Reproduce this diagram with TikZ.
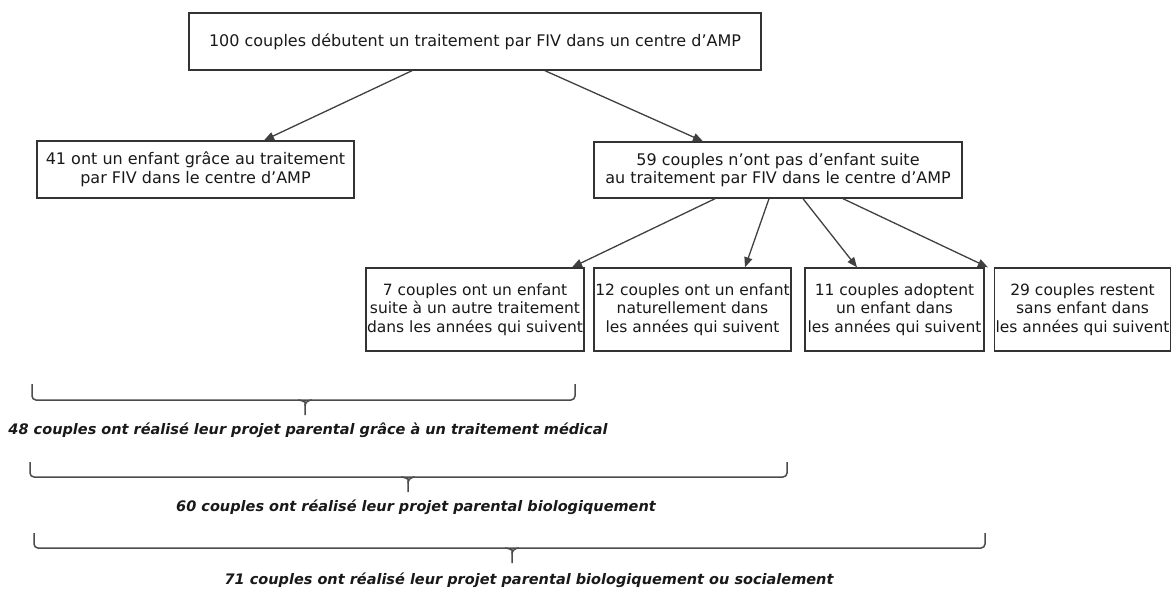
\documentclass[tikz,border=0pt]{standalone}
\usepackage{fontspec}
\setmainfont{DejaVu Sans}
\usetikzlibrary{arrows.meta}

\begin{document}
\begin{tikzpicture}[x=1pt,y=-1pt,>={Triangle[length=10pt,width=8pt]},
				boite/.style={rectangle,draw=black!80,line width=1.4pt,inner sep=1pt,align=center,text=black!90,font=\fontsize{16}{18.5}\selectfont},
				petite/.style={boite,font=\fontsize{15.5}{18.5}\selectfont},
				fleche/.style={->,draw=black!75,line width=1.3pt},
				accolade/.style={draw=black!70,line width=1.5pt,rounded corners=4pt},
				bilan/.style={text=black!90,inner sep=0pt,font=\fontsize{14.5}{17}\selectfont\bfseries\itshape}]

				\useasboundingbox (0,0) rectangle (1172,590);

				\node (debut) [boite,minimum width=572pt,minimum height=57pt] at (475,41.5) {100 couples débutent un traitement par FIV dans un centre d'AMP};
				\node (enfant41) [boite,minimum width=317pt,minimum height=57pt] at (195.5,169.5) {41 ont un enfant grâce au traitement\\par FIV dans le centre d'AMP};
				\node (sans59) [boite,minimum width=368pt,minimum height=56pt] at (778,170) {59 couples n'ont pas d'enfant suite\\au traitement par FIV dans le centre d'AMP};
				\node (autre7) [petite,minimum width=218pt,minimum height=83pt] at (475,309.5) {7 couples ont un enfant\\suite à un autre traitement\\dans les années qui suivent};
				\node (nat12) [petite,minimum width=197pt,minimum height=83pt] at (692.5,309.5) {12 couples ont un enfant\\naturellement dans\\les années qui suivent};
				\node (adopt11) [petite,minimum width=179pt,minimum height=83pt] at (894.5,309.5) {11 couples adoptent\\un enfant dans\\les années qui suivent};
				\node (sans29) [petite,minimum width=175pt,minimum height=83pt] at (1082.5,309.5) {29 couples restent\\sans enfant dans\\les années qui suivent};

				\draw [fleche] ([xshift=-63pt]debut.south)--([xshift=68.5pt]enfant41.north);
				\draw [fleche] ([xshift=70pt]debut.south)--([xshift=-75pt]sans59.north);
				\draw [fleche] ([xshift=-63pt]sans59.south)--([xshift=97pt]autre7.north);
				\draw [fleche] ([xshift=-9pt]sans59.south)--([xshift=52.5pt]nat12.north);
				\draw [fleche] ([xshift=25pt]sans59.south)--([xshift=-37.5pt]adopt11.north);
				\draw [fleche] ([xshift=65pt]sans59.south)--([xshift=-6pt]sans29.north west);

				% accolades
				\draw [accolade] (32,384)--(32,400)--(575,400)--(575,384);
				\draw [accolade] (298,400) to[out=0,in=90] (305,406)--(305,415);
				\draw [accolade] (312,400) to[out=180,in=90] (305,406);
				\node (bilan48) [bilan] at (308,430) {48 couples ont réalisé leur projet parental grâce à un traitement médical};

				\draw [accolade] (30,462)--(30,477)--(787,477)--(787,462);
				\draw [accolade] (401,477) to[out=0,in=90] (408,483)--(408,492);
				\draw [accolade] (415,477) to[out=180,in=90] (408,483);
				\node (bilan60) [bilan] at (416,507) {60 couples ont réalisé leur projet parental biologiquement};

				\draw [accolade] (34,533)--(34,548)--(985,548)--(985,533);
				\draw [accolade] (505,548) to[out=0,in=90] (512,554)--(512,563);
				\draw [accolade] (519,548) to[out=180,in=90] (512,554);
				\node (bilan71) [bilan] at (529,580) {71 couples ont réalisé leur projet parental biologiquement ou socialement};
			\end{tikzpicture}
\end{document}
